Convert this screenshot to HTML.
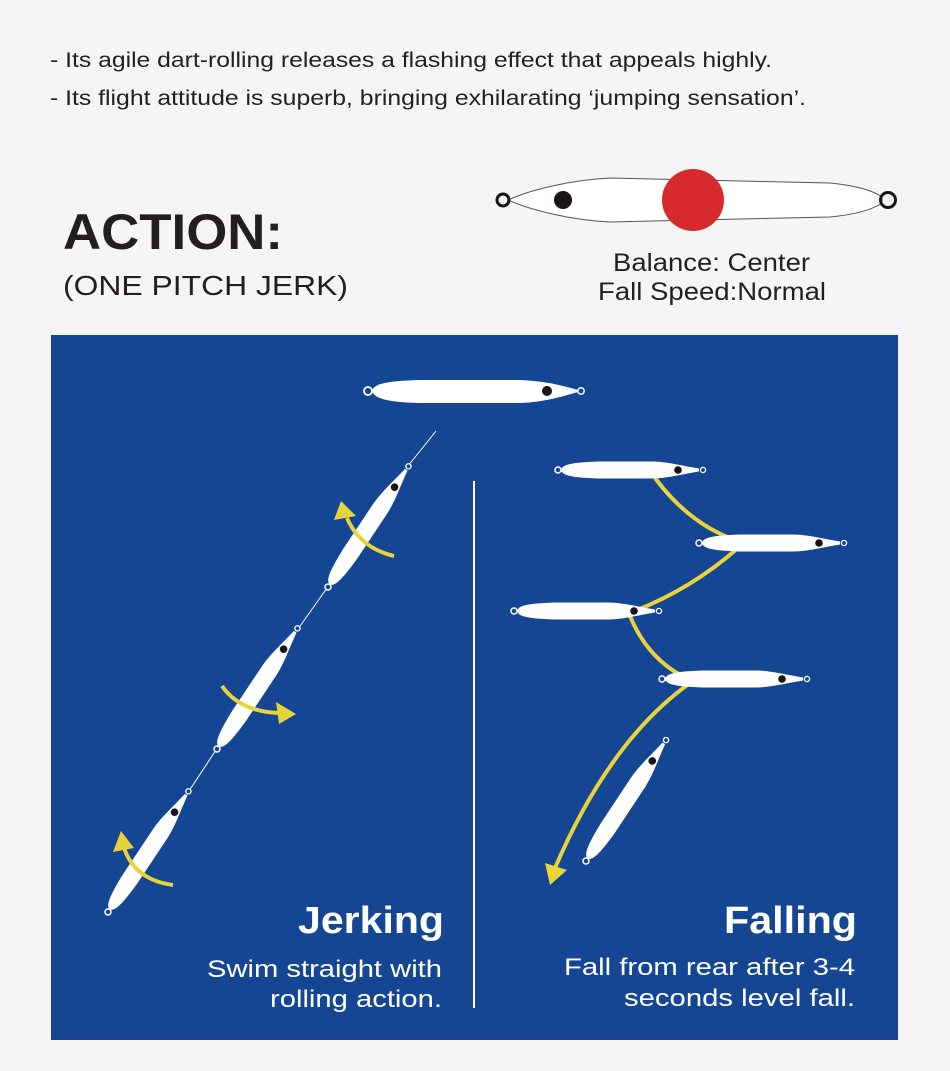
<!DOCTYPE html>
<html><head><meta charset="utf-8"><style>
html,body{margin:0;padding:0;background:#f5f5f5;}
svg{display:block;}
text{font-family:"Liberation Sans",Arial,sans-serif;}
</style></head><body>
<svg width="950" height="1071" viewBox="0 0 950 1071" xmlns="http://www.w3.org/2000/svg">
<defs>
<g id="lure">
<path d="M3,0 C4,-5 12,-7.5 40,-8.5 L95,-8.5 C110,-8 120,-5 141,-1.5 L141,1.5 C120,5 110,8 95,8.5 L40,8.5 C12,7.5 4,5 3,0Z" fill="#fff"/>
<circle cx="0" cy="0" r="3" fill="#154694" stroke="#fff" stroke-width="1.5"/>
<circle cx="145" cy="0" r="2.6" fill="#154694" stroke="#fff" stroke-width="1.3"/>
<circle cx="120" cy="0" r="3.8" fill="#1a1414"/>
</g>
</defs>
<rect width="950" height="1071" fill="#f5f5f5"/>
<text x="50" y="67" font-size="21" fill="#231f20" textLength="722" lengthAdjust="spacingAndGlyphs">- Its agile dart-rolling releases a flashing effect that appeals highly.</text>
<text x="50" y="105" font-size="21" fill="#231f20" textLength="756" lengthAdjust="spacingAndGlyphs">- Its flight attitude is superb, bringing exhilarating ‘jumping sensation’.</text>
<text x="63" y="249" font-size="50" font-weight="bold" fill="#231f20" textLength="220" lengthAdjust="spacingAndGlyphs">ACTION:</text>
<text x="63" y="295" font-size="28" fill="#231f20" textLength="285" lengthAdjust="spacingAndGlyphs">(ONE PITCH JERK)</text>
<text x="613" y="271" font-size="25" fill="#231f20" textLength="197" lengthAdjust="spacingAndGlyphs">Balance: Center</text>
<text x="598" y="300" font-size="25" fill="#231f20" textLength="228" lengthAdjust="spacingAndGlyphs">Fall Speed:Normal</text>
<!-- top lure -->
<path d="M508,200 C530,190 570,180 610,178 L830,183 C860,186 875,192 882,197 L882,203 C875,208 860,214 830,217 L610,222 C570,220 530,210 508,200Z" fill="#fff" stroke="#555" stroke-width="1"/>
<circle cx="503" cy="200" r="6" fill="none" stroke="#1a1414" stroke-width="3"/>
<circle cx="888" cy="200" r="7.5" fill="none" stroke="#1a1414" stroke-width="3"/>
<circle cx="563" cy="200" r="9" fill="#1a1414"/>
<circle cx="693" cy="200" r="31" fill="#d72a2e"/>
<!-- blue panel -->
<rect x="51" y="335" width="847" height="705" fill="#154694"/>
<!-- top lure in panel -->
<path d="M372,391 C374,384 385,381 420,380 L520,380 C545,381 560,385 578,390 L578,392 C560,397 545,402 520,403 L420,403 C385,402 374,398 372,391Z" fill="#fff"/>
<circle cx="368" cy="391" r="4" fill="#154694" stroke="#fff" stroke-width="1.8"/>
<circle cx="581" cy="391" r="3.2" fill="#154694" stroke="#fff" stroke-width="1.5"/>
<circle cx="547" cy="391" r="5" fill="#1a1414"/>
<!-- jerking -->
<g stroke="#fff" stroke-width="1">
<line x1="408" y1="466" x2="436" y2="431"/>
<line x1="189" y1="791" x2="216" y2="750"/>
<line x1="298" y1="629" x2="327" y2="588"/>
</g>
<use href="#lure" transform="translate(108,912) rotate(-56.3)"/>
<use href="#lure" transform="translate(217,749) rotate(-56.3)"/>
<use href="#lure" transform="translate(328,587) rotate(-56.3)"/>
<g fill="none" stroke="#e8d33a" stroke-width="4">
<path d="M394,556 Q360,548 347,518"/>
<path d="M222,686 Q240,712 280,713"/>
<path d="M173,885 Q135,880 124,848"/>
<path d="M655,478 Q690,525 738,541"/>
<path d="M738,548 Q690,590 632,612"/>
<path d="M630,616 Q648,660 688,679"/>
<path d="M690,683 Q610,740 555,868"/>
</g>
<g fill="#e8d33a">
<polygon points="334,520 356,516 341,501"/>
<polygon points="276,702 296,714 279,724"/>
<polygon points="113,852 134,848 121,831"/>
<polygon points="545,863 567,870 550,885"/>
</g>
<!-- falling -->
<use href="#lure" transform="translate(558,470)"/>
<use href="#lure" transform="translate(699,543)"/>
<use href="#lure" transform="translate(514,611)"/>
<use href="#lure" transform="translate(662,679)"/>
<use href="#lure" transform="translate(586,861) rotate(-56.5)"/>
<line x1="474" y1="481" x2="474" y2="1008" stroke="#fff" stroke-width="2"/>
<text x="298" y="933" font-size="38" font-weight="bold" fill="#fff" textLength="146" lengthAdjust="spacingAndGlyphs">Jerking</text>
<text x="207" y="977" font-size="24" fill="#fff" textLength="235" lengthAdjust="spacingAndGlyphs">Swim straight with</text>
<text x="270" y="1007" font-size="24" fill="#fff" textLength="172" lengthAdjust="spacingAndGlyphs">rolling action.</text>
<text x="724" y="933" font-size="38" font-weight="bold" fill="#fff" textLength="133" lengthAdjust="spacingAndGlyphs">Falling</text>
<text x="564" y="975" font-size="24" fill="#fff" textLength="291" lengthAdjust="spacingAndGlyphs">Fall from rear after 3-4</text>
<text x="624" y="1006" font-size="24" fill="#fff" textLength="231" lengthAdjust="spacingAndGlyphs">seconds level fall.</text>
</svg>
</body></html>
